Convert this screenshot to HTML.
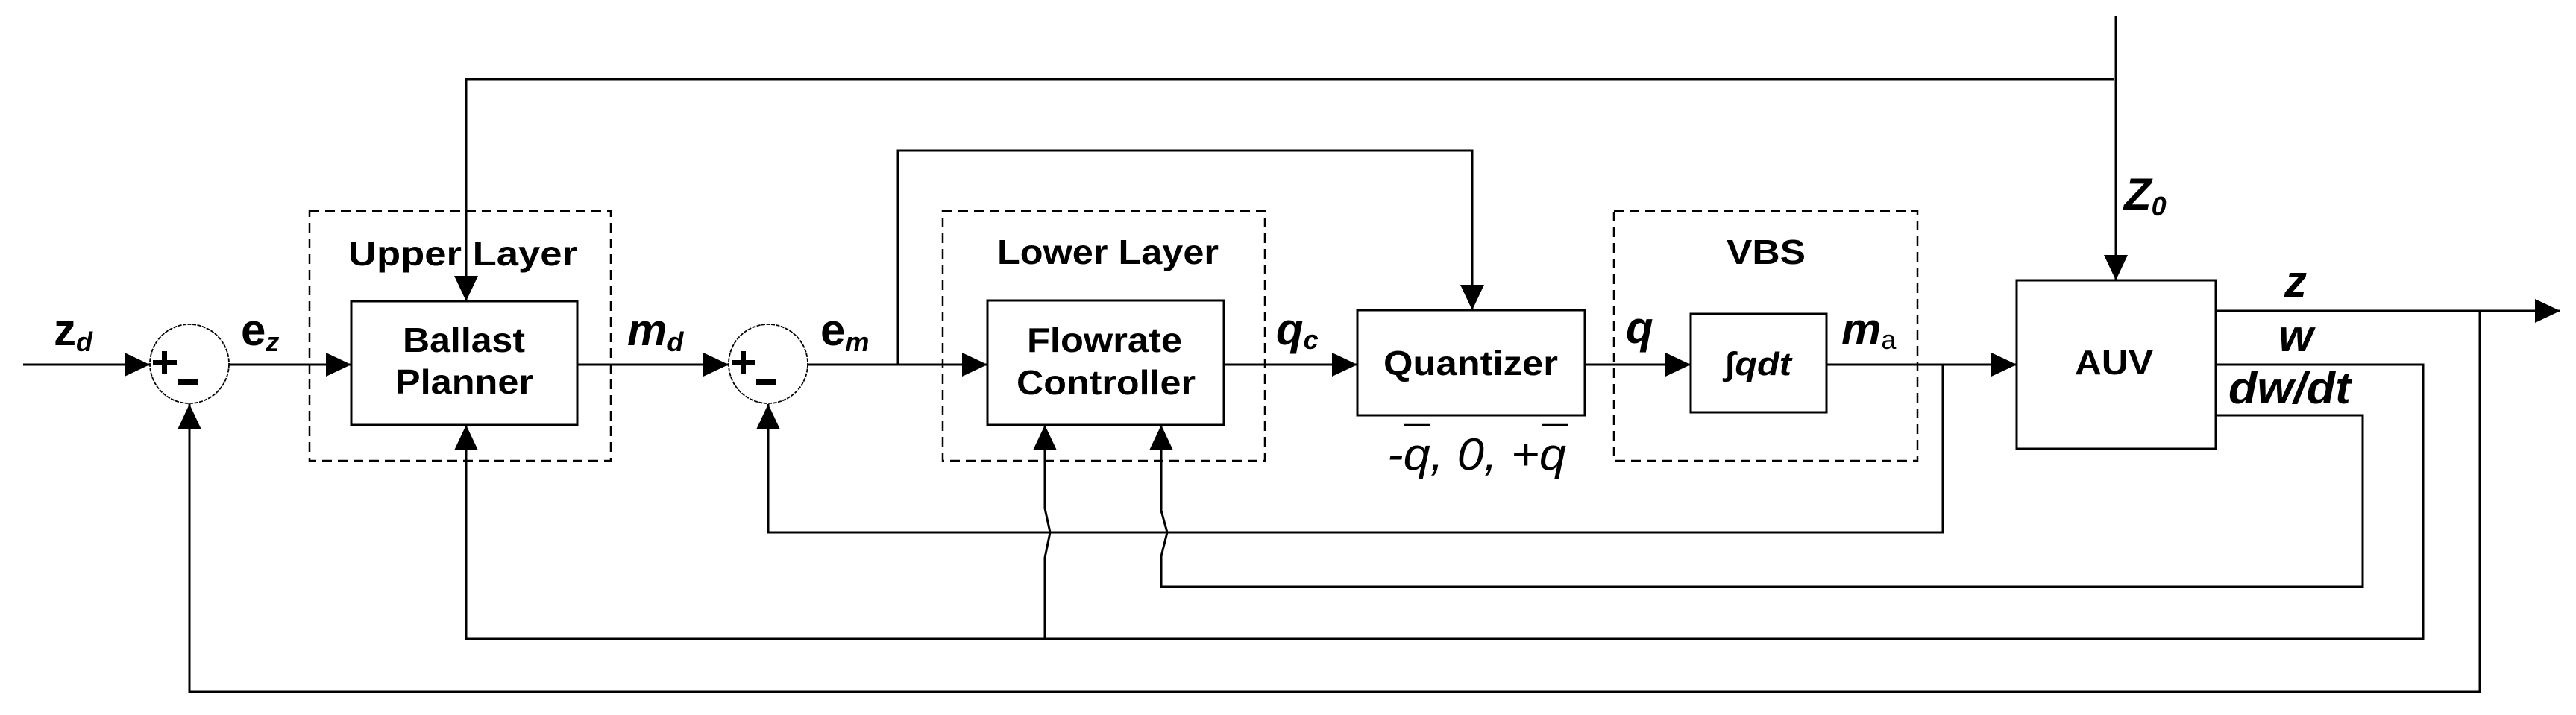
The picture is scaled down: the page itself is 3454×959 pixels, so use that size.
<!DOCTYPE html>
<html><head><meta charset="utf-8"><style>html,body{margin:0;padding:0;background:#fff}svg{display:block}</style></head>
<body>
<svg width="3454" height="959" viewBox="0 0 3454 959" xmlns="http://www.w3.org/2000/svg" font-family="Liberation Sans, Arial, sans-serif">
<defs>
<marker id="a" viewBox="0 0 34 32" refX="34" refY="16" markerWidth="34" markerHeight="32" markerUnits="userSpaceOnUse" orient="auto"><path d="M0,0 L34,16 L0,32 Z" fill="#000"/></marker>
</defs>
<g fill="none" stroke="#000" stroke-width="3">
<g stroke-width="2.5" stroke-dasharray="13,8">
<rect x="415" y="283" width="404" height="335"/>
<rect x="1264" y="283" width="432" height="335"/>
<rect x="2164" y="283" width="407" height="335"/>
</g>
<rect x="471" y="404" width="303" height="166"/>
<rect x="1324" y="403" width="317" height="167"/>
<rect x="1820" y="416" width="305" height="141"/>
<rect x="2267" y="421" width="182" height="132"/>
<rect x="2704" y="376" width="267" height="226"/>
<circle cx="254" cy="488" r="53" stroke-width="1.8" stroke-dasharray="5,1.5"/>
<circle cx="1030" cy="488" r="53" stroke-width="1.8" stroke-dasharray="5,1.5"/>
<line x1="31" y1="489" x2="201" y2="489" marker-end="url(#a)"/>
<line x1="307" y1="489" x2="471" y2="489" marker-end="url(#a)"/>
<line x1="774" y1="489" x2="977" y2="489" marker-end="url(#a)"/>
<line x1="1083" y1="489" x2="1324" y2="489" marker-end="url(#a)"/>
<line x1="1641" y1="489" x2="1820" y2="489" marker-end="url(#a)"/>
<line x1="2125" y1="489" x2="2267" y2="489" marker-end="url(#a)"/>
<line x1="2449" y1="489" x2="2704" y2="489" marker-end="url(#a)"/>
<polyline points="1204,489 1204,202 1974,202 1974,416" marker-end="url(#a)"/>
<line x1="2837" y1="21" x2="2837" y2="376" marker-end="url(#a)"/>
<polyline points="2834,106 625,106 625,404" marker-end="url(#a)"/>
<line x1="2971" y1="417" x2="3433" y2="417" marker-end="url(#a)"/>
<polyline points="3325,417 3325,928 254,928 254,542" marker-end="url(#a)"/>
<polyline points="2605,489 2605,714 1030,714 1030,542" marker-end="url(#a)"/>
<polyline points="2971,489 3249,489 3249,857 625,857 625,570" marker-end="url(#a)"/>
<polyline points="1401,857 1401,748 1408,714 1401,682 1401,570" marker-end="url(#a)"/>
<polyline points="2971,557 3168,557 3168,787 1557,787 1557,746 1565,714 1557,685 1557,570" marker-end="url(#a)"/>
<line x1="1882" y1="570" x2="1917" y2="570" stroke-width="2.5"/>
<line x1="2067" y1="570" x2="2102" y2="570" stroke-width="2.5"/>
</g>
<g fill="#000">
<rect x="205" y="483" width="32" height="7"/><rect x="217" y="471" width="7" height="31"/>
<rect x="238" y="509" width="27" height="7"/>
<rect x="981" y="483" width="32" height="7"/><rect x="993" y="471" width="7" height="31"/>
<rect x="1014" y="509" width="27" height="7"/>
</g>
<g fill="#000" font-weight="bold" font-size="46">
<text x="467" y="356" textLength="307" lengthAdjust="spacingAndGlyphs">Upper Layer</text>
<text x="540" y="472" textLength="164" lengthAdjust="spacingAndGlyphs">Ballast</text>
<text x="530" y="528" textLength="185" lengthAdjust="spacingAndGlyphs">Planner</text>
<text x="1337" y="354" textLength="297" lengthAdjust="spacingAndGlyphs">Lower Layer</text>
<text x="1377" y="472" textLength="208" lengthAdjust="spacingAndGlyphs">Flowrate</text>
<text x="1363" y="529" textLength="240" lengthAdjust="spacingAndGlyphs">Controller</text>
<text x="1855" y="503" textLength="234" lengthAdjust="spacingAndGlyphs">Quantizer</text>
<text x="2315" y="354" textLength="106" lengthAdjust="spacingAndGlyphs">VBS</text>
<text x="2782" y="502" textLength="105" lengthAdjust="spacingAndGlyphs">AUV</text>
<text x="2313" y="503" font-size="44" font-style="italic" textLength="89" lengthAdjust="spacingAndGlyphs">∫qdt</text>
<g font-size="60">
<text x="72" y="463">z<tspan font-size="36" font-style="italic" dy="8">d</tspan></text>
<text x="323" y="463">e<tspan font-size="36" font-style="italic" dy="8">z</tspan></text>
<text x="841" y="463" font-style="italic">m<tspan font-size="36" dy="8">d</tspan></text>
<text x="1100" y="463">e<tspan font-size="36" font-style="italic" dy="8">m</tspan></text>
<text x="1711" y="462" font-style="italic">q<tspan font-size="36" dy="6">c</tspan></text>
<text x="2180" y="460" font-style="italic">q</text>
<text x="2469" y="462" font-style="italic">m<tspan font-size="36" font-style="normal" font-weight="normal" dy="6">a</tspan></text>
<text x="2848" y="281" font-style="italic">Z<tspan font-size="36" dy="8">0</tspan></text>
<text x="3063" y="398" font-style="italic">z</text>
<text x="3055" y="471" font-style="italic">w</text>
<text x="2988" y="541" font-style="italic" textLength="164" lengthAdjust="spacingAndGlyphs">dw/dt</text>
</g>
<text x="1860" y="630" font-size="60" font-weight="normal" font-style="italic" textLength="240" lengthAdjust="spacingAndGlyphs">-q,  0,  +q</text>
</g>
</svg>
</body></html>
